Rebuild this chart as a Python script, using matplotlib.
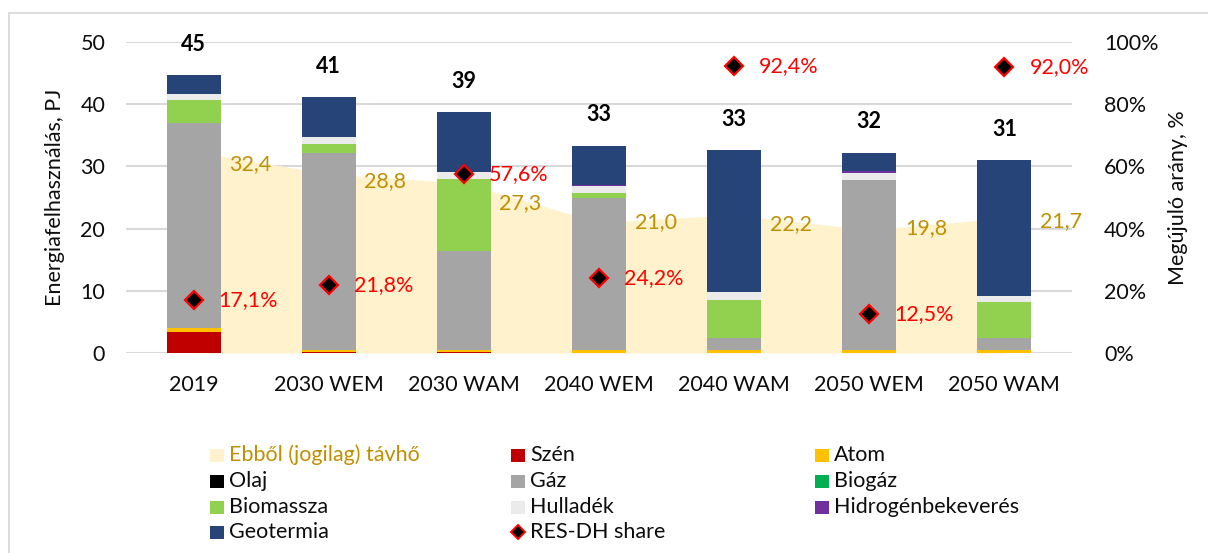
import numpy as np
import matplotlib
matplotlib.use("Agg")
import matplotlib.pyplot as plt
from matplotlib.patches import Rectangle
from matplotlib.lines import Line2D

plt.rcParams['font.family'] = ['Lato', 'DejaVu Sans']

# ---- data -------------------------------------------------------------
categories = ["2019", "2030 WEM", "2030 WAM", "2040 WEM", "2040 WAM", "2050 WEM", "2050 WAM"]

szen      = [3.40, 0.15, 0.15, 0.00, 0.00, 0.00, 0.00]
atom      = [0.55, 0.35, 0.35, 0.45, 0.45, 0.45, 0.45]
olaj      = [0.00, 0.00, 0.00, 0.00, 0.00, 0.00, 0.00]
gaz       = [33.10, 31.60, 15.90, 24.50, 1.90, 27.40, 1.90]
biogaz    = [0.00, 0.00, 0.00, 0.00, 0.00, 0.00, 0.00]
biomassza = [3.60, 1.50, 11.55, 0.75, 6.25, 0.00, 5.80]
hulladek  = [1.05, 1.20, 1.20, 1.15, 1.15, 1.15, 1.05]
hidrogen  = [0.00, 0.00, 0.00, 0.10, 0.00, 0.20, 0.00]
geotermia = [2.95, 6.30, 9.55, 6.35, 22.85, 3.00, 21.80]

tavho = [32.4, 28.8, 27.3, 21.0, 22.2, 19.8, 21.7]          # Ebből (jogilag) távhő, PJ
res_dh_share = [17.1, 21.8, 57.6, 24.2, 92.4, 12.5, 92.0]   # %

series = [
    ("Szén", szen, "#C00000"),
    ("Atom", atom, "#FFC000"),
    ("Olaj", olaj, "#000000"),
    ("Gáz", gaz, "#A5A5A5"),
    ("Biogáz", biogaz, "#00B050"),
    ("Biomassza", biomassza, "#92D050"),
    ("Hulladék", hulladek, "#EBEBEB"),
    ("Hidrogénbekeverés", hidrogen, "#7030A0"),
    ("Geotermia", geotermia, "#264478"),
]
colors = {name: c for name, _, c in series}
AREA_COLOR = "#FFF2CC"
AREA_TEXT = "#BF9000"
RED = "#FF0000"
GRID = "#D9D9D9"
TXT = "#0D0D0D"

# ---- figure -----------------------------------------------------------
W, H = 1208, 553
fig = plt.figure(figsize=(W / 100, H / 100), dpi=100)


def fx(px):
    return px / W


def fy(py):
    return 1 - py / H


ax = fig.add_axes([fx(126), fy(353), fx(1072) - fx(126), fy(42) - fy(353)])
ax2 = ax.twinx()

x = np.arange(len(categories))
FS = 15.5

# area behind the bars
ax.fill_between(x, tavho, 0, color=AREA_COLOR, lw=0, zorder=2)

# stacked bars
bottom = np.zeros(len(categories))
for name, vals, col in series:
    ax.bar(x, vals, width=0.4, bottom=bottom, color=col, lw=0, zorder=3)
    bottom += np.array(vals)
totals = bottom

# grid
ax.set_ylim(0, 50)
ax.set_xlim(-0.5, len(categories) - 0.5)
ax.set_yticks(np.arange(0, 51, 10))
ax.yaxis.grid(True, color=GRID, lw=1.5, zorder=0)
ax.set_axisbelow(True)
for s in ax.spines.values():
    s.set_visible(False)
for s in ax2.spines.values():
    s.set_visible(False)
ax.tick_params(axis='y', length=0, pad=15, labelsize=FS, labelcolor=TXT)
ax.tick_params(axis='x', length=0, pad=16, labelsize=FS, labelcolor=TXT)
ax.set_xticks(x)
ax.set_xticklabels(categories)
ax.set_ylabel("Energiafelhasználás, PJ", fontsize=FS, color=TXT, labelpad=11)

# total labels above the bars
for xi, t in zip(x, totals):
    ax.text(xi, t + 5.0, f"{int(np.floor(t + 0.5))}", ha='center', va='center',
            fontsize=FS, fontweight='bold', color='black', zorder=6)

# district heating labels along the area edge
for xi, v in zip(x, tavho):
    lx = xi + 0.42
    ly = np.interp(lx, x, tavho) - 0.5
    ax.text(lx, ly, f"{v:.1f}".replace('.', ','), ha='center', va='center',
            fontsize=FS, color=AREA_TEXT, zorder=6)

# renewable share on the secondary axis
ax2.set_ylim(0, 1)
ax2.set_yticks(np.arange(0, 1.01, 0.2))
ax2.set_yticklabels([f"{int(round(v * 100))}%" for v in np.arange(0, 1.01, 0.2)])
ax2.tick_params(axis='y', length=0, pad=23, labelsize=FS, labelcolor=TXT)
ax2.set_ylabel("Megújuló arány, %", fontsize=FS, color=TXT, labelpad=7)
share = np.array(res_dh_share) / 100
ax2.plot(x, share, ls='none', marker='D', ms=9.5, mfc='black', mec=RED, mew=1.6, zorder=7)
for xi, s in zip(x, res_dh_share):
    ax2.annotate(f"{s:.1f}".replace('.', ',') + "%", (xi, s / 100), xytext=(18, 0),
                 textcoords='offset points', ha='left', va='center',
                 fontsize=FS, color=RED, zorder=8)

# ---- legend (three equal-width columns, filled row by row) ------------
legend_rows = [
    [("Ebből (jogilag) távhő", "area"), ("Szén", "bar"), ("Atom", "bar")],
    [("Olaj", "bar"), ("Gáz", "bar"), ("Biogáz", "bar")],
    [("Biomassza", "bar"), ("Hulladék", "bar"), ("Hidrogénbekeverés", "bar")],
    [("Geotermia", "bar"), ("RES-DH share", "marker")],
]
col_x = [210, 511, 815]
row_y = [455, 481, 507, 532]
for r, row in enumerate(legend_rows):
    for c, (label, kind) in enumerate(row):
        sx, sy = col_x[c], row_y[r]
        tcol = TXT
        if kind == "marker":
            fig.add_artist(Line2D([fx(sx + 7)], [fy(sy)], transform=fig.transFigure,
                                  marker='D', ms=7, mfc='black', mec=RED, mew=1.4, ls='none'))
        else:
            col = AREA_COLOR if kind == "area" else colors[label]
            if kind == "area":
                tcol = AREA_TEXT
            fig.add_artist(Rectangle((fx(sx), fy(sy + 6.5)), fx(14), 13 / H,
                                     transform=fig.transFigure, color=col, lw=0))
        fig.text(fx(sx + 19), fy(sy), label, ha='left', va='center',
                 fontsize=FS, color=tcol)

# chart frame
fig.add_artist(Rectangle((fx(9), fy(H + 10)), fx(W + 10 - 9), (H + 10 - 13) / H,
                         transform=fig.transFigure, fill=False, ec=GRID, lw=1.3))

fig.savefig("out.png", dpi=100)
